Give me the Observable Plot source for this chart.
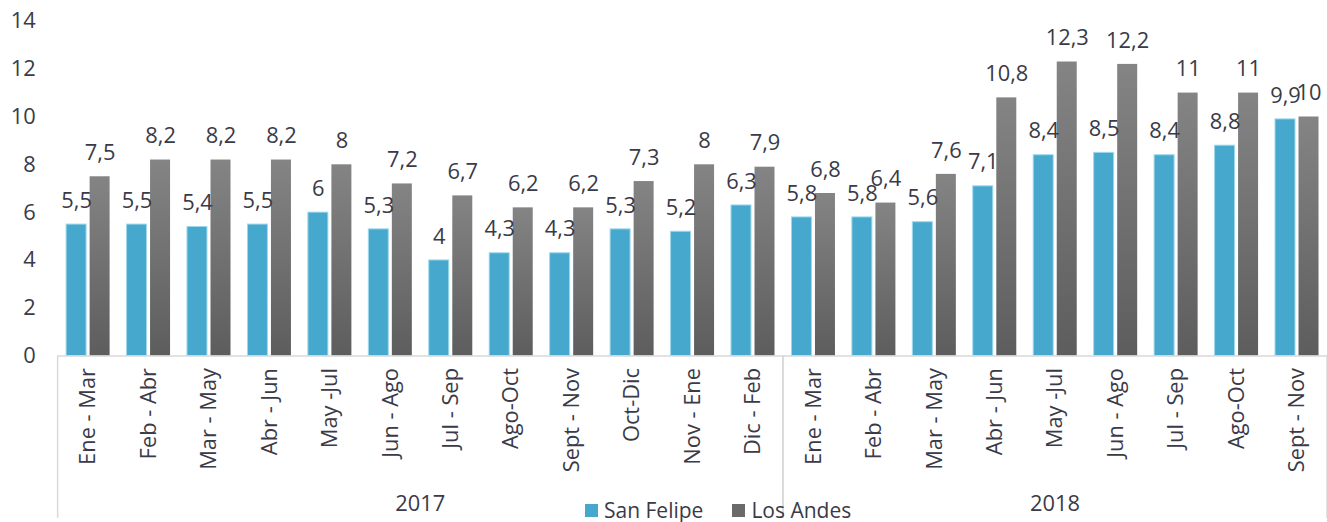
<!DOCTYPE html>
<html>
<head>
<meta charset="utf-8">
<script src="https://cdn.jsdelivr.net/npm/d3@7"></script>
<script src="https://cdn.jsdelivr.net/npm/@observablehq/plot@0.6"></script>
<style>
  html, body { margin: 0; padding: 0; background: #fff; overflow: hidden; }
  #wrap { position: relative; width: 1327px; height: 522px; overflow: hidden; }
  #legend { position: absolute; left: 585px; top: 500px; display: flex; align-items: center; line-height: 1;
    font-family: "Open Sans", sans-serif; font-size: 21px; color: #3a3a48; }
  #legend .sw { width: 13px; height: 13px; display: inline-block; margin-right: 6px; }
  #legend .item { display: flex; align-items: center; margin-right: 29px; }
</style>
</head>
<body>
<div id="wrap"></div>
<script>
const years = ["2017", "2018"];
const periods2017 = ["Ene - Mar", "Feb - Abr", "Mar - May", "Abr - Jun", "May -Jul", "Jun - Ago", "Jul - Sep", "Ago-Oct", "Sept - Nov", "Oct-Dic", "Nov - Ene", "Dic - Feb"];
const periods2018 = ["Ene - Mar", "Feb - Abr", "Mar - May", "Abr - Jun", "May -Jul", "Jun - Ago", "Jul - Sep", "Ago-Oct", "Sept - Nov"];
const sanFelipe2017 = [5.5, 5.5, 5.4, 5.5, 6, 5.3, 4, 4.3, 4.3, 5.3, 5.2, 6.3];
const sanFelipe2018 = [5.8, 5.8, 5.6, 7.1, 8.4, 8.5, 8.4, 8.8, 9.9];
const losAndes2017 = [7.5, 8.2, 8.2, 8.2, 8, 7.2, 6.7, 6.2, 6.2, 7.3, 8, 7.9];
const losAndes2018 = [6.8, 6.4, 7.6, 10.8, 12.3, 12.2, 11, 11, 10];
const seriesNames = ["San Felipe", "Los Andes"];
const yTicks = [0, 2, 4, 6, 8, 10, 12, 14];

const colorSF = "#46a8cc";
const textColor = "#3a3a48";
const font = "'Open Sans', sans-serif";
const fs = 22;

const periods = [
  {year: years[0], labels: periods2017, sf: sanFelipe2017, la: losAndes2017},
  {year: years[1], labels: periods2018, sf: sanFelipe2018, la: losAndes2018}
];
const keys = [];
const rows = [];
for (const p of periods) {
  p.labels.forEach((lab, i) => {
    const key = p.year + "|" + lab;
    keys.push(key);
    rows.push({key, year: p.year, series: seriesNames[0], value: p.sf[i]});
    rows.push({key, year: p.year, series: seriesNames[1], value: p.la[i]});
  });
}
const fmt = v => String(v).replace(".", ",");

const W = 1336, H = 522;
const pi = 0.28, po = 0.14;

const plot = Plot.plot({
  width: W,
  height: H,
  marginLeft: 58,
  marginRight: 0,
  marginTop: 21,
  marginBottom: 164,
  style: {fontFamily: font, fontSize: fs + "px", color: textColor, background: "transparent"},
  fx: {domain: keys, paddingInner: pi, paddingOuter: po, round: false, tickFormat: d => d.split("|")[1],
       tickRotate: -90, tickSize: 0, tickPadding: 12, label: null},
  x: {domain: seriesNames, paddingInner: 0.15, paddingOuter: 0, round: false, axis: null},
  y: {domain: [0, 14], ticks: yTicks, tickSize: 0, tickPadding: 31, label: null, tickFormat: d => String(d)},
  marks: [
    Plot.barY(rows.filter(d => d.series === seriesNames[0]), {fx: "key", x: "series", y: "value", fill: colorSF, stroke: "#9fd8ec", strokeWidth: 1}),
    Plot.barY(rows.filter(d => d.series === seriesNames[1]), {fx: "key", x: "series", y: "value", fill: "url(#gradLA)"}),
    Plot.text(rows, {fx: "key", x: "series", y: "value", text: d => fmt(d.value), dy: -24, fontSize: fs, fill: textColor})
  ]
});

const svg = d3.select(plot);
const defs = svg.insert("defs", ":first-child");
const g = defs.append("linearGradient").attr("id", "gradLA").attr("x1", 0).attr("y1", 0).attr("x2", 0).attr("y2", 1);
g.append("stop").attr("offset", "0%").attr("stop-color", "#848484");
g.append("stop").attr("offset", "100%").attr("stop-color", "#5d5d5d");

const fxS = plot.scale("fx");
const yS = plot.scale("y");
const band = d3.scaleBand().domain(fxS.domain).range(fxS.range).paddingInner(pi).paddingOuter(po);
const ylin = d3.scaleLinear().domain(yS.domain).range(yS.range);
const y0 = ylin(0);
const step = band.step();
const leftEdge = k => band(k) - step * pi / 2;
const rightEdge = k => band(k) + band.bandwidth() + step * pi / 2;

const ov = svg.append("g");
ov.append("line").attr("x1", leftEdge(keys[0])).attr("x2", rightEdge(keys[keys.length - 1]))
  .attr("y1", y0 + 0.5).attr("y2", y0 + 0.5).attr("stroke", "#d9d9d9").attr("stroke-width", 1.5);
for (const p of periods) {
  const ks = p.labels.map(l => p.year + "|" + l);
  const x0 = leftEdge(ks[0]), x1 = rightEdge(ks[ks.length - 1]);
  for (const x of [x0, x1]) {
    ov.append("line").attr("x1", x).attr("x2", x).attr("y1", y0).attr("y2", H)
      .attr("stroke", "#d9d9d9").attr("stroke-width", 1.5);
  }
  ov.append("text").attr("x", (x0 + x1) / 2).attr("y", 507).attr("dy", "0.35em")
    .attr("text-anchor", "middle").attr("fill", textColor)
    .style("font-size", fs + "px").style("font-family", font).text(p.year);
}

const wrap = document.getElementById("wrap");
wrap.appendChild(plot);
const leg = document.createElement("div");
leg.id = "legend";
leg.innerHTML = `<span class="item"><span class="sw" style="background:${colorSF}"></span>${seriesNames[0]}</span>` +
  `<span class="item"><span class="sw" style="background:#6a6a6a"></span>${seriesNames[1]}</span>`;
wrap.appendChild(leg);
</script>
</body>
</html>
